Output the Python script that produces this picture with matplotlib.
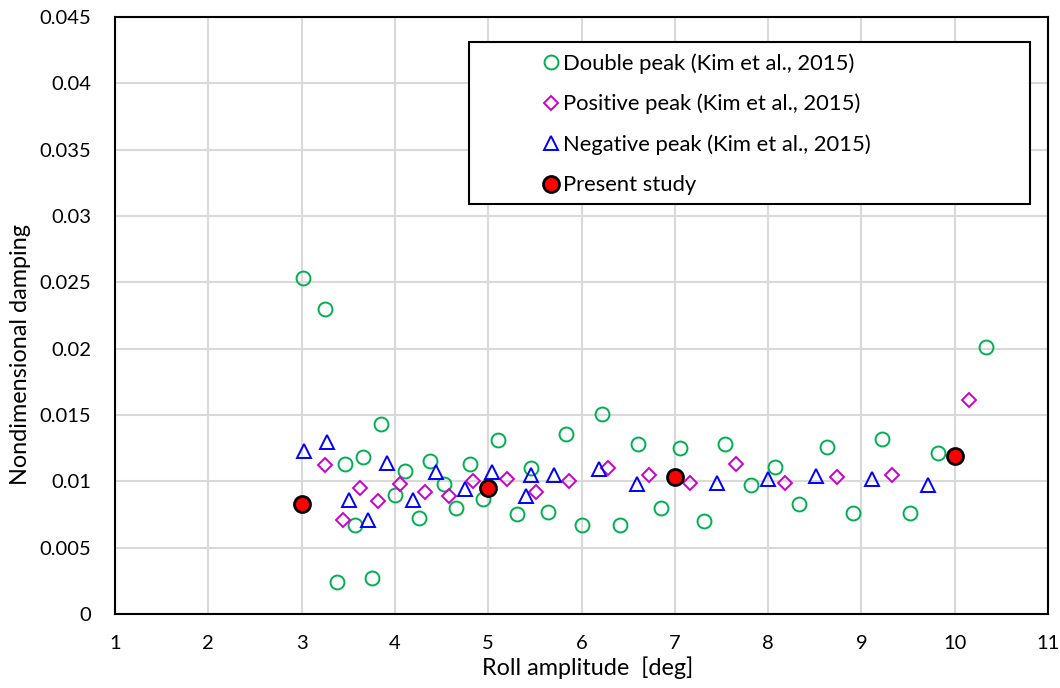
import matplotlib
matplotlib.use('Agg')
import matplotlib.pyplot as plt
from matplotlib.patches import Rectangle

plt.rcParams['font.family'] = ['Lato', 'DejaVu Sans']

# Double peak (Kim et al., 2015)
dp_x = [3.01, 3.25, 3.38, 3.46, 3.57, 3.66, 3.75, 3.85, 4.00, 4.11, 4.26, 4.38, 4.53,
        4.65, 4.80, 4.94, 5.11, 5.31, 5.46, 5.64, 5.83, 6.00, 6.22, 6.41, 6.61, 6.85,
        7.06, 7.31, 7.54, 7.82, 8.07, 8.33, 8.63, 8.91, 9.22, 9.52, 9.82, 10.33]
dp_y = [0.0253, 0.0230, 0.0024, 0.0113, 0.0067, 0.0118, 0.0027, 0.0143, 0.0090, 0.0108,
        0.0072, 0.0115, 0.0098, 0.0080, 0.0113, 0.0087, 0.0131, 0.0075, 0.0110, 0.0077,
        0.0136, 0.0067, 0.0151, 0.0067, 0.0128, 0.0080, 0.0125, 0.0070, 0.0128, 0.0097,
        0.0111, 0.0083, 0.0126, 0.0076, 0.0132, 0.0076, 0.0121, 0.0201]

# Positive peak (Kim et al., 2015)
pp_x = [3.25, 3.44, 3.63, 3.82, 4.05, 4.32, 4.58, 4.84, 5.20, 5.51, 5.87, 6.28, 6.72,
        7.16, 7.66, 8.18, 8.74, 9.33, 10.15]
pp_y = [0.0112, 0.0071, 0.0095, 0.0085, 0.0098, 0.0092, 0.0089, 0.0100, 0.0102, 0.0092,
        0.0100, 0.0110, 0.0105, 0.0099, 0.0113, 0.0099, 0.0103, 0.0105, 0.0161]

# Negative peak (Kim et al., 2015)
np_x = [3.03, 3.27, 3.51, 3.71, 3.92, 4.19, 4.44, 4.75, 5.04, 5.41, 5.46, 5.71, 6.19,
        6.59, 7.45, 8.00, 8.51, 9.11, 9.71]
np_y = [0.0123, 0.0130, 0.0086, 0.0071, 0.0114, 0.0086, 0.0107, 0.0094, 0.0107, 0.0089,
        0.0105, 0.0105, 0.0109, 0.0098, 0.0099, 0.0102, 0.0104, 0.0102, 0.0097]

# Present study
ps_x = [3, 5, 7, 10]
ps_y = [0.0083, 0.0095, 0.0103, 0.0119]

labels = ['Double peak (Kim et al., 2015)', 'Positive peak (Kim et al., 2015)',
          'Negative peak (Kim et al., 2015)', 'Present study']

fig = plt.figure(figsize=(10.6, 6.88), dpi=100)
ax = fig.add_axes([0.1085, 0.1076, 0.8802, 0.8677])

ax.plot(dp_x, dp_y, 'o', ms=10, mfc='none', mec='#00b050', mew=1.4, label=labels[0], zorder=3)
ax.plot(pp_x, pp_y, 'D', ms=6.8, mfc='none', mec='#cc00cc', mew=1.4, label=labels[1], zorder=3)
ax.plot(np_x, np_y, '^', ms=10, mfc='none', mec='#0000ff', mew=1.4, label=labels[2], zorder=3)
ax.plot(ps_x, ps_y, 'o', ms=11.5, mfc='#ff0000', mec='black', mew=2, label=labels[3], zorder=4)

ax.set_xlim(1, 11)
ax.set_ylim(0, 0.045)
ax.set_xticks(range(1, 12))
ax.set_yticks([0, 0.005, 0.01, 0.015, 0.02, 0.025, 0.03, 0.035, 0.04, 0.045])
ax.set_yticklabels(['0', '0.005', '0.01', '0.015', '0.02', '0.025', '0.03', '0.035', '0.04', '0.045'])
ax.grid(True, color='#d9d9d9', lw=1.5)
ax.set_axisbelow(True)
ax.tick_params(length=0, labelsize=14.5)
ax.tick_params(axis='y', pad=17)
ax.tick_params(axis='x', pad=15)
for s in ax.spines.values():
    s.set_linewidth(1.5)
    s.set_color('black')

ax.set_xlabel('Roll amplitude  [deg]', fontsize=16.8)
ax.set_ylabel('Nondimensional damping', fontsize=16.8)
ax.xaxis.set_label_coords((588 - 115) / 933, (614 - 668) / 597)
ax.yaxis.set_label_coords((20 - 115) / 933, (614 - 355) / 597)
ax.xaxis.label.set_va('center')
ax.yaxis.label.set_va('center')

# legend box
ax.add_patch(Rectangle((0.3794, 0.6868), 0.6013, 0.2712, transform=ax.transAxes,
                       facecolor='white', edgecolor='black', lw=1.5, zorder=5))
leg = ax.legend(loc='upper left', bbox_to_anchor=((542 - 115) / 933, (614 - 53) / 597),
                frameon=False, fontsize=15.8, borderpad=0, borderaxespad=0,
                handlelength=0.8, handletextpad=0.15, labelspacing=0.92)
leg.set_zorder(6)

fig.savefig('out.png', dpi=100)
